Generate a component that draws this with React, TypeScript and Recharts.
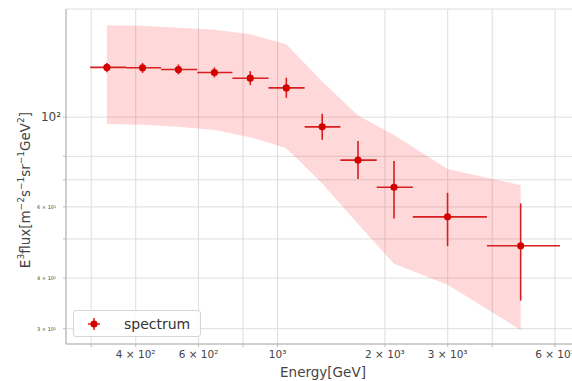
import {
  ComposedChart,
  Area,
  Scatter,
  ErrorBar,
  XAxis,
  YAxis,
  CartesianGrid,
  Legend,
  Label,
} from 'recharts';

// points of the spectrum (GeV, E^3 flux)
const energy = [332, 418, 527, 665, 838, 1058, 1334, 1681, 2121, 2997, 4806];
const binLo = [298, 376, 471, 595, 747, 943, 1191, 1500, 1897, 2395, 3865];
const binHi = [376, 471, 595, 747, 943, 1191, 1500, 1897, 2395, 3865, 6196];
const flux = [132.7, 132.4, 131.1, 128.9, 124.8, 118.1, 94.6, 78.3, 67.1, 56.7, 48.1];
const fluxHi = [136.1, 136.1, 134.9, 132.7, 129.9, 125.1, 101.9, 87.3, 77.9, 65.0, 61.2];
const fluxLo = [129.1, 128.6, 127.5, 125.3, 120.0, 111.6, 87.9, 70.3, 56.2, 48.0, 35.2];

// systematic band
const bandLo = [96.1, 95.8, 94.7, 92.9, 89.2, 83.8, 68.5, 54.4, 43.4, 38.5, 29.8];
const bandHi = [168.7, 168.2, 166.3, 164.4, 160.3, 151.4, 122.4, 100.9, 90.3, 74.4, 67.9];

const xGridTicks = [300, 400, 500, 600, 700, 800, 900, 1000, 2000, 3000, 4000, 5000, 6000];
const xTickLabels: Record<number, string> = {
  400: '4 × 10²',
  600: '6 × 10²',
  1000: '10³',
  2000: '2 × 10³',
  3000: '3 × 10³',
  6000: '6 × 10³',
};
const yGridTicks = [30, 40, 50, 60, 70, 80, 90, 100];
const yTickLabels: Record<number, string> = {
  30: '3 × 10¹',
  40: '4 × 10¹',
  60: '6 × 10¹',
  100: '10²',
};

const data = energy.map((e, i) => ({
  energy: e,
  flux: flux[i],
  band: [bandLo[i], bandHi[i]],
  xErr: [e - binLo[i], binHi[i] - e],
  yErr: [flux[i] - fluxLo[i], fluxHi[i] - flux[i]],
}));

const RED = '#d81e1e';
const FONT = '"DejaVu Sans", sans-serif';

const XTick = ({ x, y, payload }: any) => {
  const lab = xTickLabels[payload.value];
  if (!lab) return null;
  return (
    <text x={x} y={y} dy={9} textAnchor="middle" fontSize={10.5} fill="#444" fontFamily={FONT}>
      {lab}
    </text>
  );
};

const YTick = ({ x, y, payload }: any) => {
  const lab = yTickLabels[payload.value];
  if (!lab) return null;
  const big = payload.value === 100;
  return (
    <text
      x={big ? x : x - 5}
      y={y}
      dy={big ? 4 : 2}
      textAnchor="end"
      fontSize={big ? 12 : 5}
      fill="#444"
      fontFamily={FONT}
    >
      {lab}
    </text>
  );
};

const YLabel = () => (
  <text
    transform="translate(30,190) rotate(-90)"
    textAnchor="middle"
    fontSize={13.5}
    fill="#444"
    fontFamily={FONT}
  >
    <tspan>E</tspan>
    <tspan fontSize={9} dy={-6}>3</tspan>
    <tspan dy={6}>flux[m</tspan>
    <tspan fontSize={9} dy={-6}>−2</tspan>
    <tspan dy={6}>s</tspan>
    <tspan fontSize={9} dy={-6}>−1</tspan>
    <tspan dy={6}>sr</tspan>
    <tspan fontSize={9} dy={-6}>−1</tspan>
    <tspan dy={6}>GeV</tspan>
    <tspan fontSize={9} dy={-6}>2</tspan>
    <tspan dy={6}>]</tspan>
  </text>
);

const Dot = ({ cx, cy }: any) => <circle cx={cx} cy={cy} r={3.6} fill="#d40000" />;

const LegendBox = () => (
  <div
    style={{
      display: 'flex',
      alignItems: 'center',
      border: '1px solid #d6d6d6',
      borderRadius: 3,
      background: 'rgba(255,255,255,0.85)',
      height: 27,
      width: 128,
      boxSizing: 'border-box',
      fontFamily: FONT,
      fontSize: 14,
      color: '#333',
    }}
  >
    <svg width={44} height={20}>
      <line x1={14} x2={26} y1={10} y2={10} stroke={RED} strokeWidth={1.5} />
      <line x1={20} x2={20} y1={4} y2={16} stroke={RED} strokeWidth={1.5} />
      <circle cx={20} cy={10} r={3.6} fill="#d40000" />
    </svg>
    <span style={{ marginLeft: 6 }}>spectrum</span>
  </div>
);

export default function App() {
  return (
    <div style={{ position: 'absolute', left: 0, top: 0, width: 572, height: 381, overflow: 'hidden', background: '#fff' }}>
      <ComposedChart width={600} height={381} data={data} margin={{ top: 9, right: 20, bottom: 0, left: 0 }}>
        <CartesianGrid stroke="#dedede" strokeWidth={1} />
        <XAxis
          dataKey="energy"
          type="number"
          scale="log"
          domain={[255, 7050]}
          allowDataOverflow
          ticks={xGridTicks}
          tick={<XTick />}
          tickLine={{ stroke: '#bbb' }}
          tickSize={3}
          axisLine={{ stroke: '#b0b0b0' }}
          height={37}
        >
          <Label value="Energy[GeV]" position="insideBottom" offset={4} fontSize={13.5} fill="#444" fontFamily={FONT} />
        </XAxis>
        <XAxis
          xAxisId="top"
          orientation="top"
          type="number"
          scale="log"
          domain={[255, 7050]}
          allowDataOverflow
          tick={false}
          tickLine={false}
          axisLine={{ stroke: '#c4c4c4' }}
          height={0}
        />
        <YAxis
          type="number"
          scale="log"
          domain={[27.5, 185]}
          allowDataOverflow
          ticks={yGridTicks}
          tick={<YTick />}
          tickLine={{ stroke: '#bbb' }}
          tickSize={3}
          axisLine={{ stroke: '#b0b0b0' }}
          width={66}
          label={<YLabel />}
        />
        <Area
          dataKey="band"
          type="linear"
          fill="#ff0000"
          fillOpacity={0.15}
          stroke="none"
          isAnimationActive={false}
        />
        <Scatter dataKey="flux" shape={<Dot />} isAnimationActive={false}>
          <ErrorBar dataKey="xErr" direction="x" width={0} stroke={RED} strokeWidth={1.6} isAnimationActive={false} />
          <ErrorBar dataKey="yErr" direction="y" width={0} stroke={RED} strokeWidth={1.6} isAnimationActive={false} />
        </Scatter>
        <Legend
          layout="horizontal"
          verticalAlign="middle"
          align="center"
          content={<LegendBox />}
          wrapperStyle={{ position: 'absolute', left: 73, top: 310, width: 130, height: 28 }}
        />
      </ComposedChart>
    </div>
  );
}
